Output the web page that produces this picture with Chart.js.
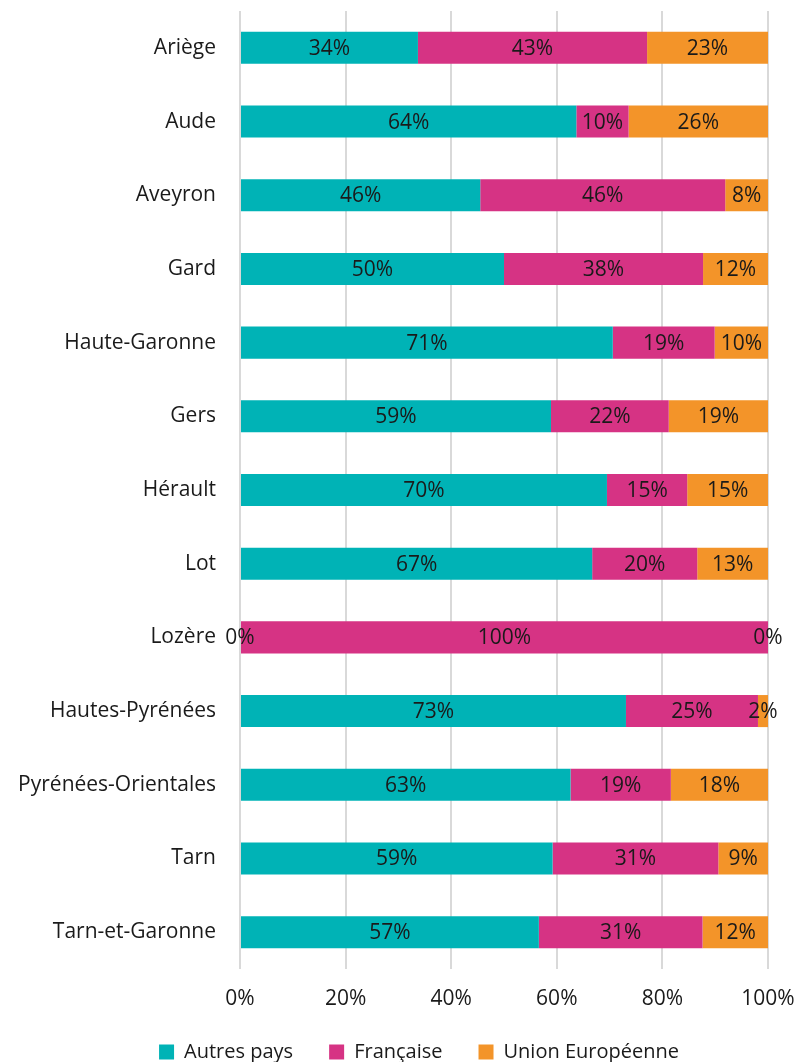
<!DOCTYPE html>
<html>
<head>
<meta charset="utf-8">
<script src="https://cdn.jsdelivr.net/npm/chart.js@4/dist/chart.umd.min.js"></script>
<style>
  body { margin: 0; background: #fff; }
  #wrap { width: 796px; height: 1062px; }
</style>
</head>
<body>
<div id="wrap"><canvas id="barChart"></canvas></div>
<script>
// départements
const categories = ['Ariège', 'Aude', 'Aveyron', 'Gard', 'Haute-Garonne', 'Gers', 'Hérault', 'Lot',
  'Lozère', 'Hautes-Pyrénées', 'Pyrénées-Orientales', 'Tarn', 'Tarn-et-Garonne'];

// parts en %
const autresPays = [33.7, 63.7, 45.5, 50.0, 70.6, 58.9, 69.5, 66.7, 0, 73.1, 62.6, 59.2, 56.6];
const francaise = [43.4, 9.9, 46.4, 37.7, 19.3, 22.3, 15.2, 19.9, 100, 25.0, 19.0, 31.4, 31.0];
const unionEuropeenne = [22.9, 26.4, 8.1, 12.3, 10.1, 18.8, 15.3, 13.4, 0, 1.9, 18.4, 9.4, 12.4];

const xTicks = [0, 20, 40, 60, 80, 100];

const FONT = 'Open Sans';
const TXT = '#1a1a1a';
const SIZE = 21;

// étiquettes au centre de chaque segment
const segmentLabels = {
  id: 'segmentLabels',
  afterLayout(chart) {
    // légende un peu décalée (droite / haut) comme dans l'original
    const lg = chart.legend;
    lg.left += 35;
    lg.right += 35;
    lg.top -= 8;
    lg.bottom -= 8;
  },
  afterDatasetsDraw(chart) {
    const c = chart.ctx;
    c.save();
    c.font = SIZE + 'px "' + FONT + '"';
    c.fillStyle = TXT;
    c.textAlign = 'center';
    c.textBaseline = 'middle';
    chart.data.datasets.forEach((ds, i) => {
      chart.getDatasetMeta(i).data.forEach((bar, j) => {
        const v = ds.data[j];
        c.fillText(Math.round(v) + '%', (bar.x + bar.base) / 2, bar.y + 1);
      });
    });
    c.restore();
  }
};

const ctx = document.getElementById('barChart').getContext('2d');

new Chart(ctx, {
  type: 'bar',
  data: {
    labels: categories,
    datasets: [
      { label: 'Autres pays', data: autresPays, backgroundColor: '#00B3B6', borderWidth: 0 },
      { label: 'Française', data: francaise, backgroundColor: '#D63384', borderWidth: 0 },
      { label: 'Union Européenne', data: unionEuropeenne, backgroundColor: '#F39429', borderWidth: 0 }
    ]
  },
  options: {
    indexAxis: 'y',
    responsive: true,
    maintainAspectRatio: false,
    animation: false,
    barPercentage: 1,
    categoryPercentage: 0.435,
    layout: { padding: { top: 11, right: 28, left: 0, bottom: -18 } },
    scales: {
      x: {
        stacked: true,
        min: 0,
        max: 100,
        afterBuildTicks: scale => { scale.ticks = xTicks.map(v => ({ value: v })); },
        afterFit: scale => {
          scale.height = 45;
          scale.paddingLeft = 0;
          scale.paddingRight = 0;
        },
        grid: { color: '#d9d9d9', lineWidth: 2, drawTicks: false },
        border: { display: false },
        ticks: {
          padding: 17,
          color: TXT,
          font: { family: FONT, size: SIZE },
          callback: v => v + '%'
        }
      },
      y: {
        stacked: true,
        afterFit: scale => {
          scale.width = 240;
          scale.paddingTop = 0;
          scale.paddingBottom = 0;
        },
        grid: { display: false, drawTicks: false },
        border: { display: false },
        ticks: {
          padding: 24,
          color: TXT,
          font: { family: FONT, size: SIZE }
        }
      }
    },
    plugins: {
      legend: {
        position: 'bottom',
        labels: {
          boxWidth: 15,
          boxHeight: 15,
          padding: 36,
          color: TXT,
          font: { family: FONT, size: 20 }
        }
      },
      tooltip: { enabled: false }
    }
  },
  plugins: [segmentLabels]
});
</script>
</body>
</html>
